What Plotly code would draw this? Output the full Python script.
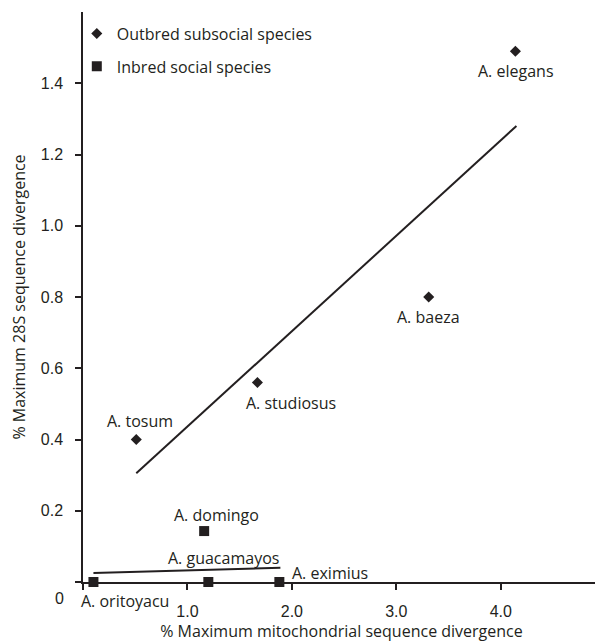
import plotly.graph_objects as go

# ---- data ----
outbred_species = ["A. elegans", "A. baeza", "A. studiosus", "A. tosum"]
outbred_x = [4.14, 3.31, 1.67, 0.51]
outbred_y = [1.49, 0.80, 0.56, 0.40]

inbred_species = ["A. domingo", "A. oritoyacu", "A. guacamayos", "A. eximius"]
inbred_x = [1.16, 0.10, 1.20, 1.88]
inbred_y = [0.143, 0.0, 0.0, 0.0]

outbred_fit_x = [0.51, 4.15]
outbred_fit_y = [0.305, 1.28]
inbred_fit_x = [0.10, 1.89]
inbred_fit_y = [0.025, 0.040]

x_tickvals = [0, 1, 2, 3, 4]
x_ticktext = ["", "1.0", "2.0", "3.0", "4.0"]
y_tickvals = [0, 0.2, 0.4, 0.6, 0.8, 1.0, 1.2, 1.4]
y_ticktext = ["", "0.2", "0.4", "0.6", "0.8", "1.0", "1.2", "1.4"]

# label offsets (px) relative to their points
outbred_label_shift = {"A. elegans": (1, -20, "center"), "A. baeza": (0, -20, "center"),
                       "A. studiosus": (34, -20, "center"), "A. tosum": (4, 19, "center")}
inbred_label_shift = {"A. domingo": (12, 16, "center"), "A. oritoyacu": (32, -19, "center"),
                      "A. guacamayos": (15, 24, "center"), "A. eximius": (11, 9, "left")}

INK = "#231f20"
LABEL_FONT = dict(family="Open Sans", size=16, color=INK)
TICK_FONT = dict(family="Liberation Sans, Arial", size=16, color=INK)

fig = go.Figure()
fig.add_trace(go.Scatter(x=outbred_fit_x, y=outbred_fit_y, mode="lines",
                         line=dict(color=INK, width=2), showlegend=False, hoverinfo="skip"))
fig.add_trace(go.Scatter(x=inbred_fit_x, y=inbred_fit_y, mode="lines",
                         line=dict(color=INK, width=2), showlegend=False, hoverinfo="skip"))
fig.add_trace(go.Scatter(x=outbred_x, y=outbred_y, mode="markers", name="Outbred subsocial species",
                         text=outbred_species, legendgroup="a",
                         marker=dict(symbol="diamond", size=8.5, color=INK), cliponaxis=False))
fig.add_trace(go.Scatter(x=inbred_x, y=inbred_y, mode="markers", name="Inbred social species",
                         text=inbred_species, legendgroup="b",
                         marker=dict(symbol="square", size=10, color=INK), cliponaxis=False))

annotations = []
for name, x, y in zip(outbred_species, outbred_x, outbred_y):
    dx, dy, anc = outbred_label_shift[name]
    annotations.append(dict(x=x, y=y, xref="x", yref="y", text=name, showarrow=False,
                            xshift=dx, yshift=dy, xanchor=anc, yanchor="middle", font=LABEL_FONT))
for name, x, y in zip(inbred_species, inbred_x, inbred_y):
    dx, dy, anc = inbred_label_shift[name]
    annotations.append(dict(x=x, y=y, xref="x", yref="y", text=name, showarrow=False,
                            xshift=dx, yshift=dy, xanchor=anc, yanchor="middle", font=LABEL_FONT))
annotations.append(dict(x=0, y=0, xref="paper", yref="y", text="0", showarrow=False,
                        xanchor="right", yanchor="middle", xshift=-17, yshift=-16, font=TICK_FONT))

# page body adds an 8px margin, so the figure is sized to fit the remaining window
fig.update_layout(
    width=595, height=635,
    margin=dict(l=75, r=3, t=4, b=61),
    paper_bgcolor="white", plot_bgcolor="white",
    showlegend=True,
    legend=dict(x=-0.012, y=0.992, xanchor="left", yanchor="top", font=LABEL_FONT,
                bgcolor="rgba(0,0,0,0)", tracegroupgap=9, itemwidth=30),
    annotations=annotations,
    xaxis=dict(range=[0, 4.95], showgrid=False, zeroline=False, showline=True, linecolor=INK,
               linewidth=1.5, ticks="outside", ticklen=6, tickcolor=INK, tickwidth=1.5,
               tickvals=x_tickvals, ticktext=x_ticktext, tickfont=TICK_FONT, ticklabelstandoff=8,
               automargin=False,
               title=dict(text="% Maximum mitochondrial sequence divergence", font=LABEL_FONT, standoff=6)),
    yaxis=dict(range=[0, 1.6], showgrid=False, zeroline=False, showline=True, linecolor=INK,
               linewidth=1.5, ticks="outside", ticklen=6, tickcolor=INK, tickwidth=1.5,
               tickvals=y_tickvals, ticktext=y_ticktext, tickfont=TICK_FONT, ticklabelstandoff=9,
               automargin=False,
               title=dict(text="% Maximum 28S sequence divergence", font=LABEL_FONT, standoff=11)),
)

fig.write_html("out.html")
